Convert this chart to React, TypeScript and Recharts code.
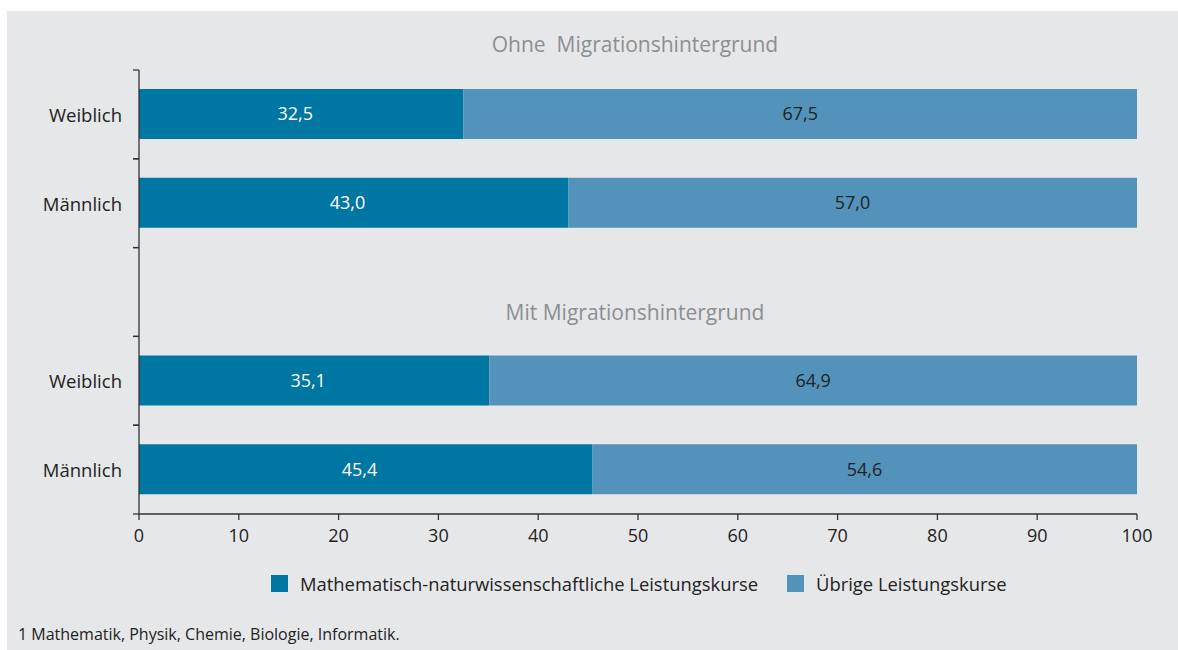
import React from "react";
import { BarChart, Bar, XAxis, YAxis, LabelList } from "recharts";

const categories = ["Weiblich", "Männlich", "", "Weiblich", "Männlich"];
const mintValues = [32.5, 43.0, null, 35.1, 45.4];
const otherValues = [67.5, 57.0, null, 64.9, 54.6];
const groupTitles = ["Ohne\u00A0\u00A0Migrationshintergrund", "Mit Migrationshintergrund"];
const xTicks = [0, 10, 20, 30, 40, 50, 60, 70, 80, 90, 100];
const seriesNames = ["Mathematisch-naturwissenschaftliche Leistungskurse", "Übrige Leistungskurse"];
const seriesColors = ["#0076a3", "#5393bb"];
const footnote = "1 Mathematik, Physik, Chemie, Biologie, Informatik.";

const data = categories.map((c, i) => ({
  id: "r" + i,
  label: c,
  mint: mintValues[i],
  other: otherValues[i],
}));

const W = 1171;
const H = 639;
const M = { top: 59, right: 41, left: 0, bottom: 106 };
const YW = 132;
const XH = 30;
const FONT = "'Open Sans', sans-serif";
const STEP = (H - M.top - M.bottom - XH) / categories.length;
const PLOT_CENTER = 628;

const fmt = (v: any) => (v == null ? "" : Number(v).toFixed(1).replace(".", ","));

const YTick = (props: any) => {
  const { y, payload, index } = props;
  const ax = M.left + YW;
  const row = data.find((d) => d.id === payload.value);
  const label = row ? row.label : "";
  return (
    <g>
      <line x1={ax - 6} x2={ax} y1={y - STEP / 2} y2={y - STEP / 2} stroke="#333" strokeWidth={1.3} />
      <line x1={ax - 6} x2={ax} y1={y + STEP / 2} y2={y + STEP / 2} stroke="#333" strokeWidth={1.3} />
      <text x={ax - 17} y={y} textAnchor="end" dominantBaseline="central" fill="#222" fontSize={18.5} fontFamily={FONT}>
        {label}
      </text>
      {index === 0 && (
        <text x={PLOT_CENTER} y={y - 70} textAnchor="middle" dominantBaseline="central" fill="#8c8f92" fontSize={21} fontFamily={FONT}>
          {groupTitles[0]}
        </text>
      )}
      {label === "" && (
        <text x={PLOT_CENTER} y={y + 20} textAnchor="middle" dominantBaseline="central" fill="#8c8f92" fontSize={21} fontFamily={FONT}>
          {groupTitles[1]}
        </text>
      )}
    </g>
  );
};

export default function App() {
  return (
    <div style={{ position: "absolute", left: 7, top: 11, width: W, height: H, background: "#e6e7e9", fontFamily: FONT }}>
      <BarChart width={W} height={H} data={data} layout="vertical" margin={M} barSize={50}>
        <XAxis
          type="number"
          domain={[0, 100]}
          ticks={xTicks}
          height={XH}
          tickSize={6}
          tickMargin={9}
          axisLine={{ stroke: "#333", strokeWidth: 1.3 }}
          tickLine={{ stroke: "#333", strokeWidth: 1.3 }}
          tick={{ fill: "#222", fontSize: 18, fontFamily: FONT }}
        />
        <YAxis
          type="category"
          dataKey="id"
          width={YW}
          axisLine={{ stroke: "#333", strokeWidth: 1.3 }}
          tickLine={false}
          tick={<YTick />}
          interval={0}
        />
        <Bar dataKey="mint" stackId="a" fill={seriesColors[0]} isAnimationActive={false}>
          <LabelList dataKey="mint" position="center" dx={-6} formatter={fmt} fill="#ffffff" fontSize={18} fontFamily={FONT} />
        </Bar>
        <Bar dataKey="other" stackId="a" fill={seriesColors[1]} isAnimationActive={false}>
          <LabelList dataKey="other" position="center" formatter={fmt} fill="#222" fontSize={18} fontFamily={FONT} />
        </Bar>
      </BarChart>
      {seriesNames.map((n, i) => (
        <div
          key={n}
          style={{ position: "absolute", top: 563, left: i === 0 ? 264 : 780, display: "flex", alignItems: "center", height: 18 }}
        >
          <div style={{ width: 17, height: 17, background: seriesColors[i], marginRight: 12 }} />
          <span style={{ fontSize: 18.4, color: "#222", whiteSpace: "nowrap" }}>{n}</span>
        </div>
      ))}
      <div style={{ position: "absolute", left: 11, top: 612, fontSize: 16, color: "#222", whiteSpace: "nowrap" }}>{footnote}</div>
    </div>
  );
}
